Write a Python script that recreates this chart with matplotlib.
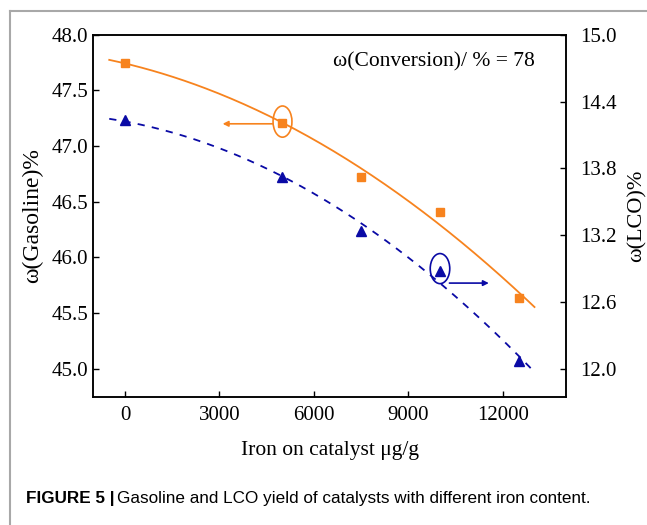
import matplotlib.pyplot as plt
import numpy as np
from matplotlib.patches import Ellipse
from matplotlib.lines import Line2D

# data
iron = [0, 5000, 7500, 10000, 12500]
gasoline = [47.75, 47.21, 46.72, 46.41, 45.64]   # left axis
lco = [14.23, 13.72, 13.24, 12.88, 12.07]        # right axis

orange = '#F7831E'
blue = '#0A0AA5'
cap_font = ['Liberation Sans', 'DejaVu Sans']

plt.rcParams['font.family'] = ['Liberation Serif', 'DejaVu Serif']

fig = plt.figure(figsize=(6.47, 5.25), dpi=100)
ax = fig.add_axes([0.1445, 0.2444, 0.7303, 0.6895])
ax2 = ax.twinx()

# quadratic trend lines through the points
xs = np.linspace(-500, 13000, 200)
pg = np.polyfit(iron, gasoline, 2)
pl = np.polyfit(iron, lco, 2)
ax.plot(xs, np.polyval(pg, xs), color=orange, lw=1.3)
ax.plot(iron, gasoline, 's', color=orange, ms=5.5, mec=orange)
ax2.plot(xs, np.polyval(pl, xs), color=blue, lw=1.3, ls=(0, (4, 4)))
ax2.plot(iron, lco, '^', color=blue, ms=7, mec=blue)

ax.set_xlim(-1000, 14000)
ax.set_ylim(44.75, 48.0)
ax2.set_ylim(11.75, 15.0)
ax.set_xticks([0, 3000, 6000, 9000, 12000])
ax.set_yticks(np.arange(45.0, 48.01, 0.5))
ax2.set_yticks(np.arange(12.0, 15.01, 0.6))
ax.yaxis.set_major_formatter(plt.FormatStrFormatter('%.1f'))
ax2.yaxis.set_major_formatter(plt.FormatStrFormatter('%.1f'))

ax.tick_params(axis='both', direction='in', length=4, width=1, labelsize=15)
ax.tick_params(axis='x', pad=7)
ax.tick_params(axis='y', pad=4)
ax2.tick_params(axis='y', direction='in', length=4, width=1, labelsize=15, pad=10)
for a in (ax, ax2):
    for s in a.spines.values():
        s.set_linewidth(1.1)

ax.set_xlabel('Iron on catalyst \u03bcg/g', fontsize=15.5, labelpad=11)
ax.set_ylabel('\u03c9(Gasoline)%', fontsize=17, labelpad=6)
ax2.set_ylabel('\u03c9(LCO)%', fontsize=16, labelpad=8)

ax.text(0.935, 0.925, '\u03c9(Conversion)/ % = 78', transform=ax.transAxes,
        ha='right', va='center', fontsize=15.5)

# circles and arrows marking which axis each curve uses
ax.add_patch(Ellipse((5000, 47.22), 600, 0.28, fill=False, ec=orange, lw=1.2))
ax.annotate('', xy=(3100, 47.20), xytext=(4680, 47.20),
            arrowprops=dict(arrowstyle='-|>', color=orange, lw=1.2,
                            mutation_scale=8, shrinkA=0, shrinkB=0))
ax2.add_patch(Ellipse((10000, 12.90), 620, 0.27, fill=False, ec=blue, lw=1.2))
ax2.annotate('', xy=(11550, 12.77), xytext=(10300, 12.77),
             arrowprops=dict(arrowstyle='-|>', color=blue, lw=1.2,
                             mutation_scale=8, shrinkA=0, shrinkB=0))

# caption
cap = fig.text(26 / 647, 1 - 498 / 525, 'FIGURE 5 |', fontsize=12.3, weight='bold',
               family=cap_font, va='center')
ax.annotate('Gasoline and LCO yield of catalysts with different iron content.',
            xy=(1, 0.5), xycoords=cap, xytext=(2, 0), textcoords='offset points',
            va='center', ha='left', fontsize=12.3, family=cap_font,
            annotation_clip=False)

# page frame (left and top edges)
fy = 1 - 10.7 / 525
fx = 10 / 647
fig.add_artist(Line2D([fx, 1], [fy, fy], transform=fig.transFigure, color='#A8A8A8', lw=1.5))
fig.add_artist(Line2D([fx, fx], [0, fy], transform=fig.transFigure, color='#A8A8A8', lw=1.5))

fig.savefig('out.png', dpi=100)
